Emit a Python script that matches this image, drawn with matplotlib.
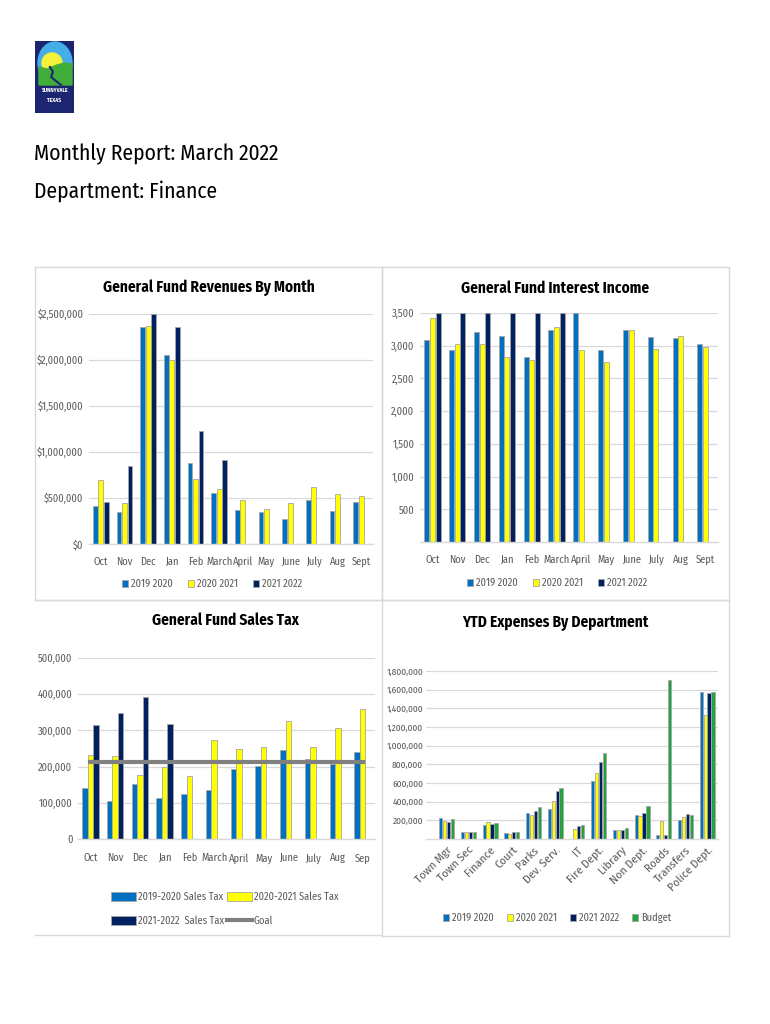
import matplotlib
matplotlib.use('Agg')
import matplotlib.pyplot as plt
from matplotlib.patches import Rectangle, Circle, Ellipse, Polygon
from matplotlib.lines import Line2D
import numpy as np

plt.rcParams['font.family'] = ['Fira Sans Condensed', 'Open Sans Condensed', 'Lato', 'DejaVu Sans']

W, H = 770, 1024

# ---- data ----
months = ['Oct', 'Nov', 'Dec', 'Jan', 'Feb', 'March', 'April', 'May', 'June', 'July', 'Aug', 'Sept']
months_tax = ['Oct', 'Nov', 'Dec', 'Jan', 'Feb', 'March', 'April', 'May', 'June', 'July', 'Aug', 'Sep']

rev_1920 = [418000, 349000, 2356000, 2058000, 884000, 553000, 375000, 349000, 269000, 473000, 364000, 458000]
rev_2021 = [691000, 444000, 2371000, 2004000, 705000, 596000, 476000, 378000, 447000, 622000, 542000, 524000]
rev_2122 = [455000, 844000, 2500000, 2356000, 1225000, 909000]

int_1920 = [3082, 2929, 3214, 3153, 2827, 3235, 3500, 2929, 3235, 3138, 3117, 3020]
int_2021 = [3423, 3020, 3020, 2827, 2776, 3291, 2939, 2755, 3235, 2949, 3143, 2985]
int_2122 = [3500, 3500, 3500, 3500, 3500, 3500]

tax_1920 = [141000, 104000, 152000, 114000, 125000, 135000, 194000, 201000, 245000, 221000, 206000, 241000]
tax_2021 = [233000, 229000, 177000, 198000, 174000, 274000, 250000, 254000, 326000, 254000, 306000, 359000]
tax_2122 = [314000, 348000, 391000, 318000]
tax_goal = [212000] * 12

depts = ['Town Mgr', 'Town Sec', 'Finance', 'Court', 'Parks', 'Dev. Serv.', 'IT', 'Fire Dept.',
         'Library', 'Non Dept.', 'Roads', 'Transfers', 'Police Dept.']
exp_1920 = [221000, 71000, 154000, 61000, 275000, 318000, 0, 625000, 100000, 261000, 43000, 207000, 1579000]
exp_2021 = [193000, 70000, 179000, 54000, 261000, 411000, 104000, 704000, 100000, 243000, 193000, 239000, 1325000]
exp_2122 = [179000, 70000, 164000, 71000, 300000, 514000, 136000, 821000, 100000, 275000, 43000, 271000, 1561000]
exp_budget = [218000, 72000, 168000, 75000, 343000, 546000, 150000, 918000, 114000, 350000, 1700000, 257000, 1575000]

BLUE = '#0070C0'
YELLOW = '#FFFF00'
NAVY = '#002060'
GREEN = '#22A33C'
EDGE = '#a6a6a6'
GRID = '#d9d9d9'
LABEL = '#595959'


def box(x0, y0, x1, y1):
    return [x0 / W, 1 - y1 / H, (x1 - x0) / W, (y1 - y0) / H]


def fx(x):
    return x / W


def fy(y):
    return 1 - y / H


def style(ax):
    for s in ['top', 'right', 'left']:
        ax.spines[s].set_visible(False)
    ax.spines['bottom'].set_color(GRID)
    ax.spines['bottom'].set_linewidth(1)
    ax.yaxis.grid(True, color=GRID, lw=0.9)
    ax.set_axisbelow(True)
    ax.tick_params(length=0, labelcolor=LABEL, labelsize=7.5, pad=4)
    ax.tick_params(axis='x', pad=9)


def frame(x0, y0, x1, y1, sides='lrtb'):
    if 't' in sides:
        fig.add_artist(Line2D([fx(x0), fx(x1)], [fy(y0), fy(y0)], color=GRID, lw=1))
    if 'b' in sides:
        fig.add_artist(Line2D([fx(x0), fx(x1)], [fy(y1), fy(y1)], color=GRID, lw=1))
    if 'l' in sides:
        fig.add_artist(Line2D([fx(x0), fx(x0)], [fy(y0), fy(y1)], color=GRID, lw=1))
    if 'r' in sides:
        fig.add_artist(Line2D([fx(x1), fx(x1)], [fy(y0), fy(y1)], color=GRID, lw=1))


fig = plt.figure(figsize=(7.7, 10.24), dpi=100)

# ---- logo ----
lg = fig.add_axes(box(35, 41, 74, 113))
lg.set_xlim(0, 39)
lg.set_ylim(0, 72)
lg.axis('off')
lg.add_patch(Rectangle((0, 0), 39, 72, color='#1c2670'))
lg.add_patch(Ellipse((20, 50), 34, 42, color='#45aee8'))
lg.add_patch(Circle((17, 50), 10, color='#f5f03a'))
lg.add_patch(Polygon([[4, 46], [12, 44], [22, 48], [30, 50], [37, 49], [37, 28], [4, 28]], color='#3fae3a'))
lg.plot([15, 18, 16, 21, 26], [46, 41, 36, 32, 28], color='#1c2670', lw=1.5)
lg.text(19.5, 23, 'SUNNYVALE', color='white', fontsize=4, ha='center', va='center', fontweight='bold')
lg.text(19.5, 13, 'TEXAS', color='white', fontsize=4, ha='center', va='center', fontweight='bold')

fig.text(fx(34), fy(160), 'Monthly Report: March 2022', fontsize=15.5, va='baseline')
fig.text(fx(34), fy(198), 'Department: Finance', fontsize=15.5, va='baseline')

# ---- frames ----
frame(35, 267, 382, 600)
frame(382, 267, 729, 600)
frame(35, 600, 382, 935, sides='tb')
frame(382, 600, 729, 936)

bw = 0.2
off = 0.23
x12 = np.arange(12)

# ---- General Fund Revenues By Month ----
ax1 = fig.add_axes(box(89, 314, 373, 544))
style(ax1)
ax1.bar(x12 - off, rev_1920, bw, color=BLUE, edgecolor=EDGE, lw=0.6, label='2019 2020')
ax1.bar(x12, rev_2021, bw, color=YELLOW, edgecolor=EDGE, lw=0.6, label='2020 2021')
ax1.bar(np.arange(len(rev_2122)) + off, rev_2122, bw, color=NAVY, edgecolor=EDGE, lw=0.6, label='2021 2022')
ax1.set_xlim(-0.5, 11.5)
ax1.set_ylim(0, 2500000)
ax1.set_yticks(np.arange(0, 2500001, 500000))
ax1.set_yticklabels(['$' + format(v, ',') for v in range(0, 2500001, 500000)])
ax1.set_xticks(x12)
ax1.set_xticklabels(months)
fig.text(fx(209), fy(288), 'General Fund Revenues By Month', fontsize=11, fontweight='bold',
         ha='center', va='center')
fig.legend(*ax1.get_legend_handles_labels(), loc='center', bbox_to_anchor=(fx(212), fy(584)),
           ncol=3, frameon=False, fontsize=7.5, handlelength=0.6, handleheight=0.6,
           handletextpad=0.3, columnspacing=1.4, labelcolor=LABEL)

# ---- General Fund Interest Income ----
ax2 = fig.add_axes(box(420, 313, 718, 542))
style(ax2)
ax2.bar(x12 - off, int_1920, bw, color=BLUE, edgecolor=EDGE, lw=0.6, label='2019 2020')
ax2.bar(x12, int_2021, bw, color=YELLOW, edgecolor=EDGE, lw=0.6, label='2020 2021')
ax2.bar(np.arange(len(int_2122)) + off, int_2122, bw, color=NAVY, edgecolor=EDGE, lw=0.6, label='2021 2022')
ax2.set_xlim(-0.5, 11.5)
ax2.set_ylim(0, 3500)
ax2.set_yticks(np.arange(500, 3501, 500))
ax2.set_yticklabels([format(v, ',') for v in range(500, 3501, 500)])
ax2.set_xticks(x12)
ax2.set_xticklabels(months)
fig.text(fx(555), fy(288), 'General Fund Interest Income', fontsize=11, fontweight='bold',
         ha='center', va='center')
fig.legend(*ax2.get_legend_handles_labels(), loc='center', bbox_to_anchor=(fx(557), fy(583)),
           ncol=3, frameon=False, fontsize=7.5, handlelength=0.6, handleheight=0.6,
           handletextpad=0.3, columnspacing=1.4, labelcolor=LABEL)

# ---- General Fund Sales Tax ----
tw = 0.22
ax3 = fig.add_axes(box(78, 658, 375, 839))
style(ax3)
b1 = ax3.bar(x12 - tw, tax_1920, tw, color=BLUE, edgecolor=EDGE, lw=0.6)
b2 = ax3.bar(x12, tax_2021, tw, color=YELLOW, edgecolor=EDGE, lw=0.6)
b3 = ax3.bar(np.arange(len(tax_2122)) + tw, tax_2122, tw, color=NAVY, edgecolor=EDGE, lw=0.6)
gl, = ax3.plot(x12, tax_goal, color='#808080', lw=3)
ax3.set_xlim(-0.5, 11.5)
ax3.set_ylim(0, 500000)
ax3.set_yticks(np.arange(0, 500001, 100000))
ax3.set_yticklabels([format(v, ',') for v in range(0, 500001, 100000)])
ax3.set_xticks(x12)
ax3.set_xticklabels(months_tax)
ax3.tick_params(axis='x', pad=10)
fig.text(fx(225), fy(620), 'General Fund Sales Tax', fontsize=11, fontweight='bold',
         ha='center', va='center')
fig.legend([b1, b3, b2, gl],
           ['2019-2020 Sales Tax', '2021-2022  Sales Tax', '2020-2021 Sales Tax', 'Goal'],
           loc='upper left', bbox_to_anchor=(fx(102), fy(882)), ncol=2, frameon=False,
           fontsize=7.5, handlelength=2.4, handleheight=1.0, handletextpad=0.2,
           labelspacing=1.3, columnspacing=0.2, labelcolor=LABEL)

# ---- YTD Expenses By Department ----
ew = 0.15
es = 0.18
x13 = np.arange(13)
ax4 = fig.add_axes(box(426, 671, 718, 839))
style(ax4)
ax4.bar(x13 - 1.5 * es, exp_1920, ew, color=BLUE, edgecolor=EDGE, lw=0.6, label='2019 2020')
ax4.bar(x13 - 0.5 * es, exp_2021, ew, color=YELLOW, edgecolor=EDGE, lw=0.6, label='2020 2021')
ax4.bar(x13 + 0.5 * es, exp_2122, ew, color=NAVY, edgecolor=EDGE, lw=0.6, label='2021 2022')
ax4.bar(x13 + 1.5 * es, exp_budget, ew, color=GREEN, edgecolor=EDGE, lw=0.6, label='Budget')
ax4.set_xlim(-0.95, 12.5)
ax4.set_ylim(0, 1800000)
ax4.set_yticks(np.arange(200000, 1800001, 200000))
ax4.set_yticklabels([format(v, ',') for v in range(200000, 1800001, 200000)])
ax4.set_xticks(x13)
ax4.set_xticklabels(depts, rotation=45, ha='right', rotation_mode='anchor', fontsize=8.5)
ax4.tick_params(axis='y', labelsize=6.8, pad=2)
ax4.tick_params(axis='x', pad=4)
fig.text(fx(555), fy(623), 'YTD Expenses By Department', fontsize=11, fontweight='bold',
         ha='center', va='center')
fig.legend(*ax4.get_legend_handles_labels(), loc='center', bbox_to_anchor=(fx(557), fy(918)),
           ncol=4, frameon=False, fontsize=7.5, handlelength=0.6, handleheight=0.6,
           handletextpad=0.3, columnspacing=1.2, labelcolor=LABEL)

fig.savefig('out.png', dpi=100)
